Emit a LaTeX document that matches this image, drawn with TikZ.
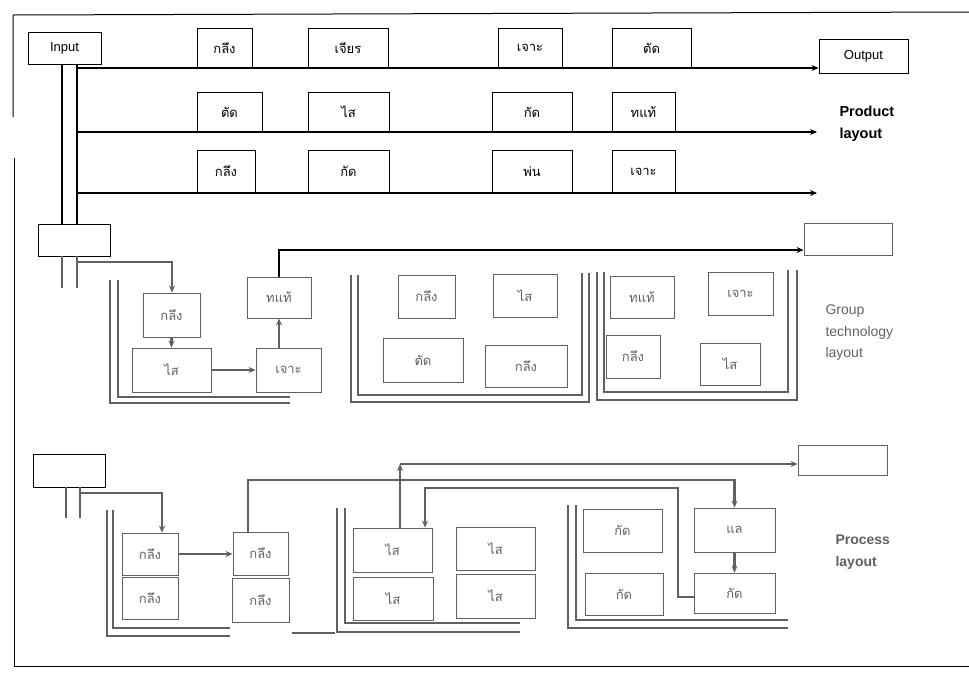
\documentclass[tikz,border=0pt]{standalone}
\usepackage{fontspec}
\setmainfont{Liberation Sans}
\newfontfamily\thaifont[Script=Thai]{Loma}
\usetikzlibrary{arrows.meta}
\definecolor{gr}{gray}{0.38}
\begin{document}
\begin{tikzpicture}[x=1pt,y=-1pt,
  mach/.style={draw=black,line width=0.8pt,inner sep=0pt,font=\thaifont\fontsize{13}{15}\selectfont},
  gmach/.style={mach,draw=gr,text=gr},
  ebox/.style={draw=black,line width=0.9pt,inner sep=0pt},
  gbox/.style={draw=gr,line width=0.9pt,inner sep=0pt},
  flow/.style={line width=2.6pt,draw=black},
  flowarr/.style={flow,-{Stealth[length=7pt,width=6pt]}},
  gflow/.style={line width=2.6pt,draw=gr},
  gflowarr/.style={gflow,-{Stealth[length=7pt,width=6pt]}},
  wall/.style={line width=1.1pt,draw=gr},
  framel/.style={line width=1pt,draw=black},
  title/.style={anchor=west,align=left,font=\fontsize{12}{21}\selectfont}
]
\useasboundingbox (0,0) rectangle (969,673);

% ---------- frame ----------
\draw[framel] (13,117) -- (13,15) -- (969,12);
\draw[framel] (14,158) -- (14,666) -- (969,666);

% ---------- Product layout ----------
\node[ebox,minimum width=73,minimum height=32] (in) at (64.5,48) {\fontsize{13}{15}\selectfont Input};
\coordinate (v1) at (62,224);
\coordinate (v2) at (77,224);
\coordinate (r1) at (77,68);
\coordinate (r2) at (77,132);
\coordinate (r3) at (77,193);

\node[mach,minimum width=55,minimum height=40] (p11) at (224.5,48) {กลึง};
\node[mach,minimum width=80,minimum height=40] (p12) at (348,48) {เจียร};
\node[mach,minimum width=64,minimum height=40] (p13) at (530,48) {เจาะ};
\node[mach,minimum width=79,minimum height=40] (p14) at (651.5,48) {ตัด};
\node[ebox,minimum width=89,minimum height=34] (pout) at (863.5,56) {\fontsize{13}{15}\selectfont Output};

\node[mach,minimum width=65,minimum height=40] (p21) at (229.5,112) {ตัด};
\node[mach,minimum width=81,minimum height=40] (p22) at (348.5,112) {ไส};
\node[mach,minimum width=80,minimum height=40] (p23) at (532,112) {กัด};
\node[mach,minimum width=63,minimum height=40] (p24) at (643.5,112) {ทแท้};
\coordinate (e2) at (817,132);

\node[mach,minimum width=58,minimum height=43] (p31) at (226,171.5) {กลึง};
\node[mach,minimum width=81,minimum height=43] (p32) at (348.5,171.5) {กัด};
\node[mach,minimum width=80,minimum height=43] (p33) at (532,171.5) {พ่น};
\node[mach,minimum width=63,minimum height=43] (p34) at (643.5,171.5) {เจาะ};
\coordinate (e3) at (817,193);

\draw[line width=2.8pt] (in.south -| v1) -- (v1);
\draw[line width=2.8pt] (in.south -| v2) -- (v2);
\draw[flowarr] (r1) -- (pout.west |- r1);
\draw[flowarr] (r2) -- (e2);
\draw[flowarr] (r3) -- (e3);

\node[title,font=\bfseries\fontsize{14.5}{22}\selectfont] (pt) at (836,124) {Product\\layout};

% ---------- Group technology layout ----------
\node[ebox,minimum width=72,minimum height=32] (gb) at (74,240) {};
\coordinate (gv1) at (62,288);
\coordinate (gv2) at (77,288);
\coordinate (gs) at (77,262);
\coordinate (gc) at (172,262);
\draw[gflow] (gb.south -| gv1) -- (gv1);
\draw[gflow] (gb.south -| gv2) -- (gv2);

% cell walls
\draw[wall] (110,280) -- (110,403) -- (290,403);
\draw[wall] (118,280) -- (118,397) -- (290,397);
\draw[wall] (351,275) -- (351,402) -- (589,402) -- (589,273);
\draw[wall] (358,275) -- (358,395) -- (582,395) -- (582,273);
\draw[wall] (597,272) -- (597,400) -- (797,400) -- (797,270);
\draw[wall] (604,272) -- (604,392) -- (788,392) -- (788,270);

\node[gmach,minimum width=57,minimum height=44] (g1) at (171.5,315) {กลึง};
\node[gmach,minimum width=79,minimum height=44] (g2) at (171.5,370) {ไส};
\node[gmach,minimum width=65,minimum height=44] (g3) at (288.5,370) {เจาะ};
\node[gmach,minimum width=64,minimum height=41] (g4) at (279,297.5) {ทแท้};

\node[gmach,minimum width=57,minimum height=43] (c21) at (426.5,296.5) {กลึง};
\node[gmach,minimum width=64,minimum height=43] (c22) at (525,295.5) {ไส};
\node[gmach,minimum width=80,minimum height=44] (c23) at (423,360) {ตัด};
\node[gmach,minimum width=82,minimum height=42] (c24) at (526,366) {กลึง};

\node[gmach,minimum width=64,minimum height=42] (c31) at (642,297) {ทแท้};
\node[gmach,minimum width=65,minimum height=43] (c32) at (740.5,293.5) {เจาะ};
\node[gmach,minimum width=54,minimum height=43] (c33) at (633,356.5) {กลึง};
\node[gmach,minimum width=60,minimum height=42] (c34) at (730,364) {ไส};

\node[gbox,minimum width=88,minimum height=32] (gout) at (848,239) {};
\coordinate (gy) at (279,250);

\draw[gflowarr] (gs) -- (gc) -- (g1.north -| gc);
\draw[gflowarr] (g1.south) -- (g2.north);
\draw[gflowarr] (g2.east) -- (g3.west);
\draw[gflowarr] (g3.north -| g4) -- (g4.south);
\draw[flowarr] (g4.north) -- (gy) -- (gout.west |- gy);

\node[title,text=gr,font=\fontsize{14}{21.5}\selectfont] (gt) at (822,333) {Group\\technology\\layout};

% ---------- Process layout ----------
\node[ebox,minimum width=72,minimum height=33] (pb) at (69,470.5) {};
\coordinate (pv1) at (66,518);
\coordinate (pv2) at (80,518);
\coordinate (ps) at (80,493);
\coordinate (pc) at (162,493);
\draw[gflow] (pb.south -| pv1) -- (pv1);
\draw[gflow] (pb.south -| pv2) -- (pv2);

\draw[wall] (107,510) -- (107,636) -- (230,636);
\draw[wall] (113,510) -- (113,628) -- (230,628);
\draw[wall] (292,633) -- (335,633);
\draw[wall] (337,508) -- (337,632) -- (520,632);
\draw[wall] (345,508) -- (345,623) -- (520,623);
\draw[wall] (568,505) -- (568,628) -- (788,628);
\draw[wall] (576,505) -- (576,620) -- (788,620);

\node[gmach,minimum width=56,minimum height=42] (q11) at (150,554) {กลึง};
\node[gmach,minimum width=56,minimum height=42] (q12) at (150,598) {กลึง};
\node[gmach,minimum width=55,minimum height=43] (q21) at (260.5,553.5) {กลึง};
\node[gmach,minimum width=57,minimum height=44] (q22) at (260.5,600) {กลึง};

\node[gmach,minimum width=79,minimum height=44] (q31) at (392.5,550) {ไส};
\node[gmach,minimum width=79,minimum height=43] (q32) at (495.5,548.5) {ไส};
\node[gmach,minimum width=80,minimum height=43] (q33) at (393,598.5) {ไส};
\node[gmach,minimum width=79,minimum height=44] (q34) at (495.5,596) {ไส};

\node[gmach,minimum width=79,minimum height=43] (q41) at (622.5,530.5) {กัด};
\node[gmach,minimum width=81,minimum height=44] (q42) at (734.5,530) {แล};
\node[gmach,minimum width=78,minimum height=42] (q43) at (624,594) {กัด};
\node[gmach,minimum width=81,minimum height=40] (q44) at (734.5,593) {กัด};

\node[gbox,minimum width=89,minimum height=30] (qout) at (842.5,460) {};

\coordinate (ra) at (248,480);
\coordinate (rb1) at (678,597);
\coordinate (rb2) at (678,488);
\coordinate (rb3) at (425,488);
\coordinate (rc) at (400,464);

\draw[gflowarr] (ps) -- (pc) -- (q11.north -| pc);
\draw[gflowarr] (q11.east) -- (q21.west |- q11.east);
\draw[gflowarr] (q21.north -| ra) -- (ra) -| (q42.north);
\draw[gflowarr] (q42.south) -- (q44.north);
\draw[gflowarr] (q44.west |- rb1) -- (rb1) -- (rb2) -- (rb3) -- (rb3 |- q31.north);
\draw[gflowarr] (q31.north -| rc) -- (rc);
\draw[gflowarr] (rc) -- (qout.west |- rc);

\node[title,text=gr,font=\bfseries\fontsize{14}{22}\selectfont] (pt2) at (832,552) {Process\\layout};

\end{tikzpicture}
\end{document}
